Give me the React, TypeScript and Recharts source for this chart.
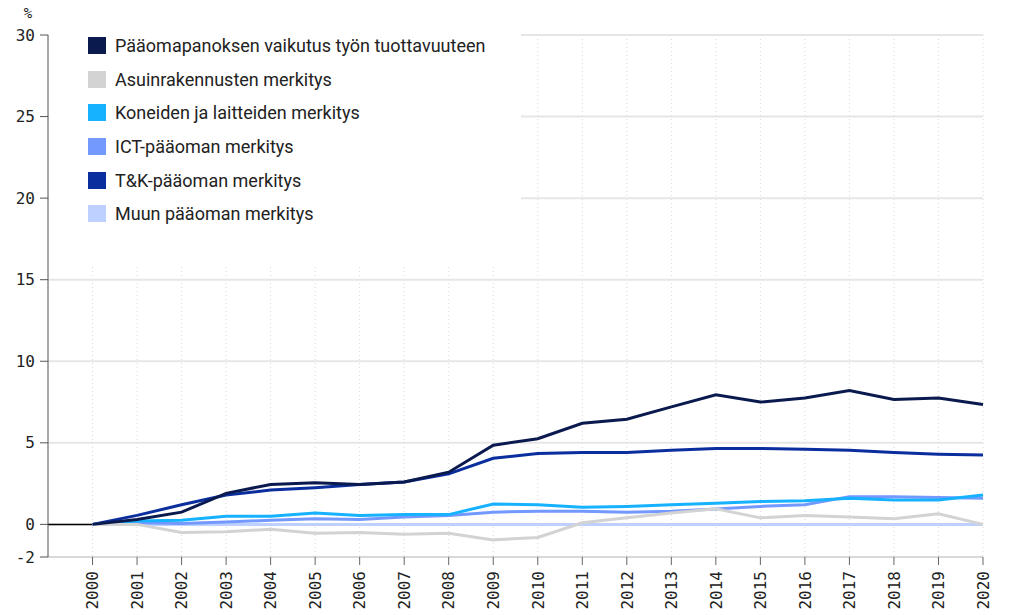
import React from "react"
import { CartesianGrid, Legend, Line, LineChart, ReferenceLine, XAxis, YAxis } from "recharts"

const years = [
  2000, 2001, 2002, 2003, 2004, 2005, 2006, 2007, 2008, 2009, 2010,
  2011, 2012, 2013, 2014, 2015, 2016, 2017, 2018, 2019, 2020,
]

// Pääomapanoksen vaikutus työn tuottavuuteen
const capital = [0, 0.3, 0.75, 1.9, 2.45, 2.55, 2.45, 2.6, 3.2, 4.85, 5.25, 6.2, 6.45, 7.2, 7.95, 7.5, 7.75, 8.2, 7.65, 7.75, 7.35]
// Asuinrakennusten merkitys
const housing = [0, 0, -0.5, -0.45, -0.3, -0.55, -0.5, -0.6, -0.55, -0.95, -0.8, 0.1, 0.4, 0.7, 0.95, 0.4, 0.55, 0.45, 0.35, 0.65, 0]
// Koneiden ja laitteiden merkitys
const machinery = [0, 0.2, 0.25, 0.5, 0.5, 0.7, 0.55, 0.6, 0.6, 1.25, 1.2, 1.05, 1.1, 1.2, 1.3, 1.4, 1.45, 1.6, 1.5, 1.5, 1.8]
// ICT-pääoman merkitys
const ict = [0, 0.1, 0.05, 0.15, 0.25, 0.35, 0.3, 0.45, 0.55, 0.75, 0.8, 0.8, 0.75, 0.8, 0.95, 1.1, 1.2, 1.7, 1.7, 1.65, 1.6]
// T&K-pääoman merkitys
const rnd = [0, 0.55, 1.2, 1.8, 2.1, 2.25, 2.45, 2.6, 3.1, 4.05, 4.35, 4.4, 4.4, 4.55, 4.65, 4.65, 4.6, 4.55, 4.4, 4.3, 4.25]
// Muun pääoman merkitys
const other = [0, 0, 0, 0, 0, 0, 0, 0, 0, 0, 0, 0, 0, 0, 0, 0, 0, 0, 0, 0, 0]

const yTicks = [-2, 0, 5, 10, 15, 20, 25, 30]

const series = [
  { key: "capital", name: "Pääomapanoksen vaikutus työn tuottavuuteen", color: "#0b1a4e" },
  { key: "housing", name: "Asuinrakennusten merkitys", color: "#d3d3d3" },
  { key: "machinery", name: "Koneiden ja laitteiden merkitys", color: "#17b2ff" },
  { key: "ict", name: "ICT-pääoman merkitys", color: "#7399ff" },
  { key: "rnd", name: "T&K-pääoman merkitys", color: "#0a2e9e" },
  { key: "other", name: "Muun pääoman merkitys", color: "#bdd0ff" },
]

const data = years.map((year, i) => ({
  year,
  capital: capital[i],
  housing: housing[i],
  machinery: machinery[i],
  ict: ict[i],
  rnd: rnd[i],
  other: other[i],
}))

const drawOrder = ["other", "rnd", "ict", "machinery", "housing", "capital"]

const monoFont = "'DejaVu Sans Mono', monospace"

function YearTick(props: any) {
  const { x, y, payload } = props
  return (
    <text
      x={x}
      y={y}
      transform={`rotate(-90, ${x}, ${y})`}
      textAnchor="end"
      dy="0.36em"
      fontFamily={monoFont}
      fontSize={16}
      fill="#222"
    >
      {payload.value}
    </text>
  )
}

function LegendBox() {
  return (
    <div style={{ paddingTop: 29, paddingLeft: 39 }}>
      {series.map((s) => (
        <div key={s.key} style={{ display: "flex", alignItems: "center", height: 33.6 }}>
          <span style={{ width: 18, height: 17, background: s.color, display: "inline-block", marginRight: 9 }} />
          <span style={{ fontFamily: "Roboto, sans-serif", fontSize: 18, color: "#222", whiteSpace: "nowrap" }}>
            {s.name}
          </span>
        </div>
      ))}
    </div>
  )
}

export default function App() {
  return (
    <div style={{ position: "absolute", left: 0, top: 0, width: 1010, height: 615, background: "#fff" }}>
      <LineChart width={1010} height={615} data={data} margin={{ top: 35, right: 27, bottom: 0, left: 0 }}>
        <CartesianGrid horizontal={false} stroke="#d8d8d8" strokeDasharray="1 3" />
        <CartesianGrid vertical={false} stroke="#e6e6e6" strokeWidth={2} />
        <XAxis
          dataKey="year"
          type="number"
          domain={[1999, 2020]}
          ticks={years}
          interval={0}
          height={58}
          axisLine={{ stroke: "#cccccc" }}
          tickLine={{ stroke: "#666" }}
          tickSize={8}
          tickMargin={6}
          tick={<YearTick />}
        />
        <YAxis
          domain={[-2, 30]}
          ticks={yTicks}
          interval={0}
          width={48}
          axisLine={{ stroke: "#555" }}
          tickLine={{ stroke: "#555" }}
          tickSize={8}
          tickMargin={5}
          tick={{ fontFamily: monoFont, fontSize: 16, fill: "#222" }}
          label={{ value: "%", position: "top", offset: 17, dx: 4, fontFamily: monoFont, fontSize: 14, fill: "#222" }}
        />
        <ReferenceLine y={0} stroke="#000" strokeWidth={1.5} />
        {drawOrder.map((k) => {
          const s = series.find((x) => x.key === k)!
          return (
            <Line
              key={k}
              type="linear"
              dataKey={k}
              name={s.name}
              stroke={s.color}
              strokeWidth={3}
              dot={false}
              activeDot={false}
              isAnimationActive={false}
            />
          )
        })}
        <Legend
          layout="vertical"
          align="center"
          verticalAlign="middle"
          content={<LegendBox />}
          wrapperStyle={{ left: 49, top: 0, width: 472, height: 265, background: "#fff" }}
        />
      </LineChart>
    </div>
  )
}
